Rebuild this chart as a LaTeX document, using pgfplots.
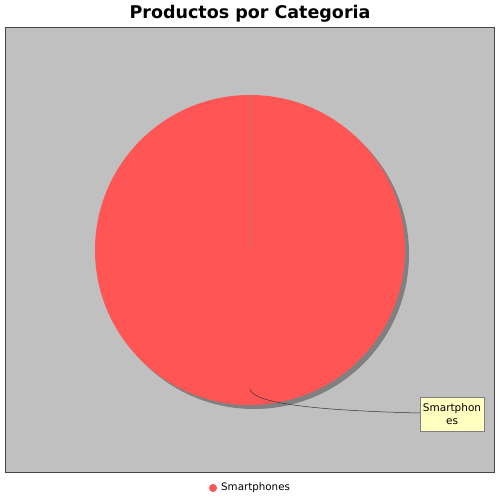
\documentclass[border=0pt]{standalone}
\usepackage{pgfplots}
\pgfplotsset{compat=1.18}
\usepackage{fontspec}
\setmainfont{DejaVu Sans}
\definecolor{slice}{HTML}{FF5555}
\definecolor{plotbg}{HTML}{C0C0C0}
\definecolor{shadowc}{HTML}{808080}
\definecolor{labelbg}{HTML}{FFFFC0}
\definecolor{framec}{HTML}{444444}

% one category, its share of the pie (percent)
\def\sharesmart{100}

\begin{document}
\begin{tikzpicture}
\begin{axis}[
    width=500bp, height=500bp, scale only axis,
    xmin=0, xmax=500, ymin=0, ymax=500, y dir=reverse,
    hide axis, clip=false
]
% page and plot background
\fill[white] (axis cs:0,0) rectangle (axis cs:500,500);
\filldraw[fill=plotbg, draw=framec, line width=0.8bp]
    (axis cs:5,27) rectangle (axis cs:494,472);

% shadow and pie
\fill[shadowc] (axis cs:254,254) circle[radius=155];
\fill[slice] (axis cs:250,250) circle[radius=155];
% slice boundary (starts at 12 o'clock)
\draw[shadowc!45!slice, line width=0.4bp] (axis cs:250,250) -- (axis cs:250,95);

% label link and label box
\draw[black!80, line width=0.5bp] (axis cs:250,389)
    .. controls (axis cs:252,400) and (axis cs:290,410) .. (axis cs:420,413);
\node[draw=gray, fill=labelbg, line width=0.5bp, inner sep=0pt,
      minimum width=64bp, minimum height=34bp, align=center,
      font=\fontsize{10.5bp}{12.5bp}\selectfont]
    at (axis cs:452,414) {Smartphon\\es};

% title
\node[font=\fontsize{17.5bp}{20bp}\selectfont\bfseries]
    at (axis cs:250,14) {Productos por Categoria};

% legend
\fill[slice] (axis cs:213,488) circle[radius=4];
\node[anchor=west, inner sep=0pt, font=\fontsize{10.3bp}{12bp}\selectfont]
    at (axis cs:221,488) {Smartphones};
\end{axis}
\end{tikzpicture}
\end{document}
